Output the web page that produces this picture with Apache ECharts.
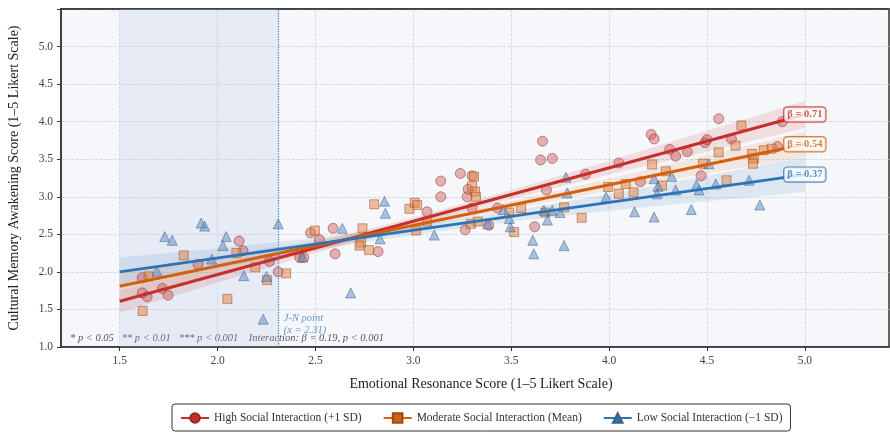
<!DOCTYPE html>
<html>
<head>
<meta charset="utf-8">
<script src="https://cdn.jsdelivr.net/npm/echarts@6/dist/echarts.min.js"></script>
<style>
  html, body { margin: 0; padding: 0; background: #ffffff; }
  #chart { width: 890px; height: 434px; }
</style>
</head>
<body>
<div id="chart"></div>
<script>
// Axis ticks
const xTicks = [1.5, 2.0, 2.5, 3.0, 3.5, 4.0, 4.5, 5.0];

// Series names
const seriesNames = [
  'High Social Interaction (+1 SD)',
  'Moderate Social Interaction (Mean)',
  'Low Social Interaction (\u22121 SD)'
];

// Observed points [emotional resonance, cultural memory awakening]
const highPoints = [
  [1.615, 1.92], [1.615, 1.72], [1.64, 1.67], [1.718, 1.78], [1.747, 1.69],
  [1.90, 2.10], [2.11, 2.41], [2.13, 2.28], [2.265, 2.14], [2.31, 2.00],
  [2.42, 2.19], [2.44, 2.19], [2.475, 2.52], [2.52, 2.43], [2.59, 2.58],
  [2.60, 2.24], [2.82, 2.27], [3.07, 2.80], [3.14, 3.00], [3.14, 3.21],
  [3.24, 3.31], [3.265, 2.56], [3.275, 3.00], [3.28, 3.10], [3.30, 3.28],
  [3.30, 2.85], [3.385, 2.62], [3.43, 2.85], [3.62, 2.60], [3.68, 3.09],
  [3.66, 3.74], [3.65, 3.49], [3.71, 3.51], [3.88, 3.30], [4.05, 3.45],
  [4.16, 3.20], [4.215, 3.83], [4.23, 3.77], [4.31, 3.63], [4.34, 3.54],
  [4.40, 3.60], [4.47, 3.28], [4.56, 4.04], [4.625, 3.77], [4.49, 3.72],
  [4.50, 3.76], [4.86, 3.67], [4.885, 4.00]
];
const moderatePoints = [
  [1.617, 1.48], [1.648, 1.94], [1.827, 2.22], [2.05, 1.64], [2.096, 2.25],
  [2.193, 2.06], [2.253, 1.89], [2.35, 1.98], [2.497, 2.55], [2.74, 2.58],
  [2.733, 2.39], [2.725, 2.35], [2.774, 2.29], [2.80, 2.90], [2.98, 2.84],
  [3.007, 2.92], [3.02, 2.89], [3.014, 2.55], [3.07, 2.67], [3.31, 3.27],
  [3.30, 3.14], [3.315, 3.07], [3.32, 3.00], [3.294, 2.64], [3.33, 2.67],
  [3.49, 2.79], [3.515, 2.53], [3.55, 2.85], [3.675, 2.79], [3.77, 2.86],
  [3.86, 2.72], [3.995, 3.13], [4.05, 3.04], [4.085, 3.17], [4.125, 3.06],
  [4.22, 3.43], [4.27, 3.15], [4.29, 3.34], [4.676, 3.95], [4.646, 3.68],
  [4.56, 3.59], [4.48, 3.44], [4.60, 3.22], [4.73, 3.57], [4.74, 3.51],
  [4.735, 3.44], [4.79, 3.62], [4.83, 3.64]
];
const lowPoints = [
  [1.73, 2.47], [1.768, 2.42], [1.69, 2.01], [1.916, 2.65], [1.934, 2.61],
  [1.97, 2.17], [2.027, 2.35], [2.044, 2.47], [2.134, 1.95], [2.25, 1.94],
  [2.31, 2.64], [2.233, 1.37], [2.435, 2.20], [2.637, 2.58], [2.68, 1.72],
  [2.83, 2.44], [2.853, 2.94], [2.857, 2.78], [3.107, 2.49], [3.38, 2.64],
  [3.46, 2.83], [3.49, 2.71], [3.495, 2.60], [3.61, 2.42], [3.615, 2.24],
  [3.667, 2.82], [3.685, 2.69], [3.71, 2.82], [3.75, 2.79], [3.77, 2.35],
  [3.78, 3.26], [3.786, 3.05], [3.985, 3.00], [4.13, 2.80], [4.23, 2.73],
  [4.23, 3.24], [4.25, 3.14], [4.245, 3.04], [4.32, 3.27], [4.34, 3.09],
  [4.42, 2.83], [4.447, 3.16], [4.46, 3.09], [4.51, 3.44], [4.545, 3.17],
  [4.715, 3.22], [4.77, 2.89]
];

// Simple slopes: fitted value at the left end of the range and slope (beta)
const fitRange = [1.5, 5.0];
const fitStart = [1.61, 1.81, 2.0];
const betas = [0.71, 0.54, 0.37];

// 95% confidence bands sampled along x
const bandX = [1.5, 2.0, 2.5, 3.0, 3.5, 4.0, 4.5, 5.0];
const highLower = [1.46, 1.855, 2.25, 2.625, 2.97, 3.295, 3.60, 3.915];
const highUpper = [1.76, 2.075, 2.39, 2.725, 3.09, 3.475, 3.88, 4.275];
const modLower = [1.64, 1.96, 2.28, 2.57, 2.84, 3.08, 3.31, 3.53];
const modUpper = [1.98, 2.20, 2.42, 2.67, 2.94, 3.24, 3.55, 3.87];
const lowLower = [1.81, 2.055, 2.29, 2.495, 2.67, 2.815, 2.94, 3.065];
const lowUpper = [2.19, 2.315, 2.45, 2.615, 2.81, 3.035, 3.28, 3.525];

// Johnson-Neyman region of significance
const jnStart = 1.5;
const jnPoint = 2.31;

const FONT = '"Liberation Serif", "DejaVu Serif", serif';
const lineColors = ['#c4302b', '#d2600f', '#2f73b5'];
const edgeColors = ['#8e2a27', '#9c4a14', '#3d5f86'];
const fillColors = ['rgba(204, 92, 96, 0.55)', 'rgba(226, 130, 70, 0.6)', 'rgba(92, 140, 196, 0.6)'];
const bandColors = ['rgba(198, 48, 43, 0.13)', 'rgba(210, 96, 15, 0.11)', 'rgba(47, 115, 181, 0.12)'];
const markerShapes = ['circle', 'rect', 'triangle'];
const markerSizes = [10, 9, 10];

const pointSets = [highPoints, moderatePoints, lowPoints];
const bands = [[highLower, highUpper], [modLower, modUpper], [lowLower, lowUpper]];

function fitLine(i) {
  return fitRange.map(x => [x, fitStart[i] + betas[i] * (x - fitRange[0])]);
}

function bandSeries(i) {
  const lower = bands[i][0], upper = bands[i][1];
  return {
    type: 'custom',
    name: 'band' + i,
    z: 1,
    silent: true,
    data: [[bandX[0], lower[0]]],
    renderItem: function (params, api) {
      const pts = [];
      for (let k = 0; k < bandX.length; k++) pts.push(api.coord([bandX[k], upper[k]]));
      for (let k = bandX.length - 1; k >= 0; k--) pts.push(api.coord([bandX[k], lower[k]]));
      return { type: 'polygon', shape: { points: pts }, style: { fill: bandColors[i], stroke: null } };
    }
  };
}

const series = [];

// Shaded J-N region and J-N boundary
series.push({
  type: 'line',
  name: 'jn',
  data: [],
  z: 0,
  silent: true,
  markArea: {
    silent: true,
    itemStyle: { color: 'rgba(176, 198, 228, 0.22)' },
    data: [[{ xAxis: jnStart }, { xAxis: jnPoint }]]
  },
  markLine: {
    silent: true,
    symbol: 'none',
    label: { show: false },
    lineStyle: { color: '#4a88cc', type: 'dotted', width: 1.3 },
    data: [{ xAxis: jnPoint }]
  }
});

for (let i = 0; i < 3; i++) series.push(bandSeries(i));

for (let i = 0; i < 3; i++) {
  series.push({
    type: 'scatter',
    name: 'pts' + i,
    z: 2,
    symbol: markerShapes[i],
    symbolSize: markerSizes[i],
    itemStyle: { color: fillColors[i], borderColor: edgeColors[i], borderWidth: 0.6, opacity: 0.85 },
    data: pointSets[i]
  });
}

for (let i = 0; i < 3; i++) {
  series.push({
    type: 'line',
    name: seriesNames[i],
    z: 3,
    symbol: markerShapes[i],
    symbolSize: 11,
    showSymbol: false,
    lineStyle: { color: lineColors[i], width: 3 },
    itemStyle: { color: lineColors[i], borderColor: edgeColors[i], borderWidth: 1 },
    data: fitLine(i)
  });
}

// Slope labels at the right end of each line
for (let i = 0; i < 3; i++) {
  const end = fitLine(i)[1];
  series.push({
    type: 'scatter',
    name: 'beta' + i,
    z: 5,
    silent: true,
    symbolSize: 1,
    itemStyle: { color: 'transparent' },
    data: [end],
    label: {
      show: true,
      position: 'inside',
      formatter: '\u03b2 = ' + betas[i].toFixed(2),
      fontFamily: FONT,
      fontSize: 10.5,
      fontWeight: 'bold',
      color: lineColors[i],
      backgroundColor: '#ffffff',
      borderColor: lineColors[i],
      borderWidth: 1.2,
      borderRadius: 3,
      padding: [2, 3, 1, 3]
    }
  });
}

// J-N point note
series.push({
  type: 'scatter',
  name: 'jnNote',
  z: 5,
  silent: true,
  symbolSize: 1,
  itemStyle: { color: 'transparent' },
  data: [[jnPoint, 1.30]],
  label: {
    show: true,
    position: 'right',
    distance: 5,
    formatter: 'J-N point\n(x = ' + jnPoint.toFixed(2) + ')',
    fontFamily: FONT,
    fontStyle: 'italic',
    fontSize: 10.5,
    lineHeight: 12,
    color: '#3f7fc3'
  }
});

const axisFrame = { color: '#333333', width: 1.5 };

const option = {
  animation: false,
  backgroundColor: '#ffffff',
  grid: {
    left: 61, right: 1, top: 9, bottom: 87,
    outerBoundsMode: 'none',
    containLabel: false,
    show: true,
    backgroundColor: '#f5f7fa',
    borderColor: '#333333',
    borderWidth: 1.5
  },
  xAxis: [{
    type: 'value',
    min: 1.2,
    max: 5.43,
    name: 'Emotional Resonance Score (1\u20135 Likert Scale)',
    nameLocation: 'middle',
    nameGap: 30,
    nameTextStyle: { fontFamily: FONT, fontSize: 14, color: '#222222', padding: [0, 0, 0, 12] },
    axisLine: { onZero: false, lineStyle: axisFrame },
    axisTick: { show: true, length: 4, customValues: xTicks, lineStyle: { color: '#333333' } },
    axisLabel: {
      customValues: xTicks,
      formatter: v => v.toFixed(1),
      fontFamily: FONT, fontSize: 11.5, color: '#444444', margin: 8
    },
    splitLine: { show: true, lineStyle: { color: '#cfd2d6', type: 'dashed', width: 0.8 } }
  }, {
    // top frame line
    type: 'value',
    position: 'top',
    min: 1.2,
    max: 5.43,
    axisLine: { show: true, onZero: false, lineStyle: axisFrame },
    axisTick: { show: false },
    axisLabel: { show: false },
    splitLine: { show: false }
  }],
  yAxis: [{
    type: 'value',
    min: 1.0,
    max: 5.5,
    interval: 0.5,
    name: 'Cultural Memory Awakening Score (1\u20135 Likert Scale)',
    nameLocation: 'middle',
    nameGap: 40,
    nameTextStyle: { fontFamily: FONT, fontSize: 14, color: '#222222' },
    axisLine: { show: true, onZero: false, lineStyle: axisFrame },
    axisTick: { show: true, length: 4, lineStyle: { color: '#333333' } },
    axisLabel: {
      formatter: v => (v >= 5.5 ? '' : v.toFixed(1)),
      fontFamily: FONT, fontSize: 11.5, color: '#444444', margin: 8
    },
    splitLine: { show: true, lineStyle: { color: '#cfd2d6', type: 'dashed', width: 0.8 } }
  }],
  legend: {
    data: seriesNames,
    left: 172,
    top: 404,
    orient: 'horizontal',
    itemWidth: 28,
    itemHeight: 12,
    itemGap: 21,
    padding: [8, 8, 7, 8],
    borderColor: '#333333',
    borderWidth: 1,
    borderRadius: 3,
    backgroundColor: '#ffffff',
    textStyle: { fontFamily: FONT, fontSize: 11.5, color: '#333333' }
  },
  graphic: [{
    type: 'text',
    left: 70,
    top: 333,
    silent: true,
    style: {
      text: '* p < 0.05   ** p < 0.01   *** p < 0.001    Interaction: \u03b2 = 0.19, p < 0.001',
      font: 'italic 10.5px ' + FONT,
      fill: '#555555'
    }
  }],
  series: series
};

const chart = echarts.init(document.getElementById('chart'), null, { renderer: 'canvas' });
chart.setOption(option);
</script>
</body>
</html>
